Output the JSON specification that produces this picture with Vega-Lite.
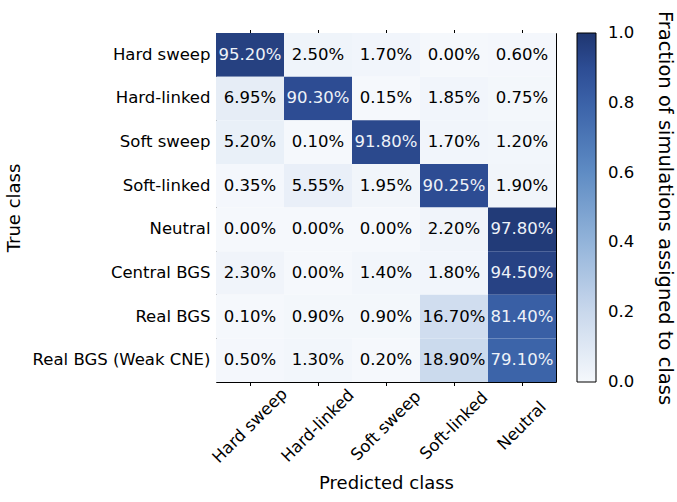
{
  "$schema": "https://vega.github.io/schema/vega-lite/v6.json",
  "autosize": "none",
  "width": 340,
  "height": 349,
  "padding": {"left": 216, "top": 33, "right": 121, "bottom": 120},
  "background": "white",
  "data": {
    "values": [
      {"true": "Hard sweep", "pred": "Hard sweep", "value": 0.952},
      {"true": "Hard sweep", "pred": "Hard-linked", "value": 0.025},
      {"true": "Hard sweep", "pred": "Soft sweep", "value": 0.017},
      {"true": "Hard sweep", "pred": "Soft-linked", "value": 0.0},
      {"true": "Hard sweep", "pred": "Neutral", "value": 0.006},
      {"true": "Hard-linked", "pred": "Hard sweep", "value": 0.0695},
      {"true": "Hard-linked", "pred": "Hard-linked", "value": 0.903},
      {"true": "Hard-linked", "pred": "Soft sweep", "value": 0.0015},
      {"true": "Hard-linked", "pred": "Soft-linked", "value": 0.0185},
      {"true": "Hard-linked", "pred": "Neutral", "value": 0.0075},
      {"true": "Soft sweep", "pred": "Hard sweep", "value": 0.052},
      {"true": "Soft sweep", "pred": "Hard-linked", "value": 0.001},
      {"true": "Soft sweep", "pred": "Soft sweep", "value": 0.918},
      {"true": "Soft sweep", "pred": "Soft-linked", "value": 0.017},
      {"true": "Soft sweep", "pred": "Neutral", "value": 0.012},
      {"true": "Soft-linked", "pred": "Hard sweep", "value": 0.0035},
      {"true": "Soft-linked", "pred": "Hard-linked", "value": 0.0555},
      {"true": "Soft-linked", "pred": "Soft sweep", "value": 0.0195},
      {"true": "Soft-linked", "pred": "Soft-linked", "value": 0.9025},
      {"true": "Soft-linked", "pred": "Neutral", "value": 0.019},
      {"true": "Neutral", "pred": "Hard sweep", "value": 0.0},
      {"true": "Neutral", "pred": "Hard-linked", "value": 0.0},
      {"true": "Neutral", "pred": "Soft sweep", "value": 0.0},
      {"true": "Neutral", "pred": "Soft-linked", "value": 0.022},
      {"true": "Neutral", "pred": "Neutral", "value": 0.978},
      {"true": "Central BGS", "pred": "Hard sweep", "value": 0.023},
      {"true": "Central BGS", "pred": "Hard-linked", "value": 0.0},
      {"true": "Central BGS", "pred": "Soft sweep", "value": 0.014},
      {"true": "Central BGS", "pred": "Soft-linked", "value": 0.018},
      {"true": "Central BGS", "pred": "Neutral", "value": 0.945},
      {"true": "Real BGS", "pred": "Hard sweep", "value": 0.001},
      {"true": "Real BGS", "pred": "Hard-linked", "value": 0.009},
      {"true": "Real BGS", "pred": "Soft sweep", "value": 0.009},
      {"true": "Real BGS", "pred": "Soft-linked", "value": 0.167},
      {"true": "Real BGS", "pred": "Neutral", "value": 0.814},
      {"true": "Real BGS (Weak CNE)", "pred": "Hard sweep", "value": 0.005},
      {"true": "Real BGS (Weak CNE)", "pred": "Hard-linked", "value": 0.013},
      {"true": "Real BGS (Weak CNE)", "pred": "Soft sweep", "value": 0.002},
      {"true": "Real BGS (Weak CNE)", "pred": "Soft-linked", "value": 0.189},
      {"true": "Real BGS (Weak CNE)", "pred": "Neutral", "value": 0.791}
    ]
  },
  "encoding": {
    "y": {
      "field": "true",
      "type": "nominal",
      "sort": ["Hard sweep", "Hard-linked", "Soft sweep", "Soft-linked", "Neutral", "Central BGS", "Real BGS", "Real BGS (Weak CNE)"],
      "scale": {"paddingInner": 0, "paddingOuter": 0},
      "axis": {"title": "True class", "titlePadding": 9, "labelPadding": 6, "ticks": false}
    }
  },
  "layer": [
    {
      "mark": {"type": "rect"},
      "encoding": {
        "x": {
          "field": "pred",
          "type": "nominal",
          "sort": ["Hard sweep", "Hard-linked", "Soft sweep", "Soft-linked", "Neutral"],
          "scale": {"paddingInner": 0, "paddingOuter": 0},
          "axis": {"orient": "bottom", "title": "Predicted class", "labelAngle": -45, "labelAlign": "center", "labelBaseline": "middle", "labelPadding": 40, "titlePadding": 8, "tickSize": 3.5}
        },
        "color": {
          "field": "value",
          "type": "quantitative",
          "scale": {
            "domain": [0, 0.2, 0.4, 0.6, 0.8, 0.9, 1.0],
            "range": ["#f5f8fc", "#c9d8ec", "#93b4da", "#5f8cc4", "#3b62a8", "#2d4d94", "#1f3670"]
          },
          "legend": {
            "title": "Fraction of simulations assigned to class",
            "orient": "none",
            "legendX": 361,
            "legendY": 0,
            "direction": "vertical",
            "gradientLength": 349,
            "gradientThickness": 19,
            "gradientStrokeColor": "black",
            "gradientStrokeWidth": 1,
            "values": [0, 0.2, 0.4, 0.6, 0.8, 1.0],
            "format": ".1f",
            "labelFontSize": 16.5,
            "labelFont": "DejaVu Sans",
            "labelColor": "black",
            "labelOffset": 12,
            "labelOverlap": false,
            "titleOrient": "right",
            "titleAngle": 90,
            "titleAnchor": "middle",
            "titleFontSize": 19.5,
            "titleFont": "DejaVu Sans",
            "titleFontWeight": "normal",
            "titleColor": "black",
            "titlePadding": 21,
            "titleLimit": 800,
            "padding": 0,
            "encode": {
              "labels": {
                "enter": {"baseline": {"value": "middle"}},
                "update": {"baseline": {"value": "middle"}}
              }
            }
          }
        }
      }
    },
    {
      "mark": {"type": "text", "font": "DejaVu Sans", "fontSize": 16.5},
      "encoding": {
        "x": {
          "field": "pred",
          "type": "nominal",
          "sort": ["Hard sweep", "Hard-linked", "Soft sweep", "Soft-linked", "Neutral"],
          "axis": {"orient": "top", "labels": false, "title": null, "tickSize": 3.5}
        },
        "text": {"field": "value", "type": "quantitative", "format": ".2%"},
        "color": {
          "condition": {"test": "datum.value > 0.5", "value": "#eef2f8"},
          "value": "black"
        }
      }
    }
  ],
  "resolve": {"axis": {"x": "independent"}},
  "config": {
    "view": {"stroke": "black", "strokeWidth": 1},
    "axis": {
      "domain": false,
      "grid": false,
      "labelFont": "DejaVu Sans",
      "labelFontSize": 16.5,
      "labelColor": "black",
      "titleFont": "DejaVu Sans",
      "titleFontSize": 18,
      "titleFontWeight": "normal",
      "titleColor": "black",
      "tickColor": "black",
      "tickWidth": 1
    }
  }
}
